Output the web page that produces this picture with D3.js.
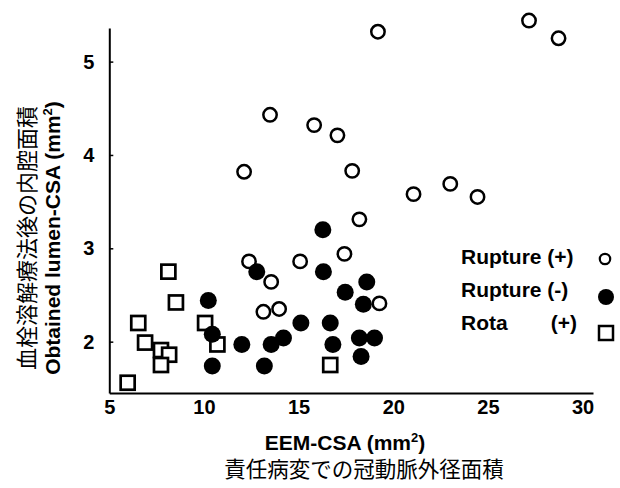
<!DOCTYPE html>
<html>
<head>
<meta charset="utf-8">
<script src="https://cdn.jsdelivr.net/npm/d3@7"></script>
<style>
	body { margin: 0; background: #fff; }
	svg text { fill: #000; }
</style>
</head>
<body>
<div id="chart"></div>
<script>
// Rupture (+) : open circles
const ruptPlusX = [19.19, 27.17, 28.73, 15.82, 17.05, 17.83, 21.07, 23.01, 24.45, 13.49, 12.12, 18.21, 17.42, 19.27, 12.38, 13.55, 15.08, 13.14, 13.97];
const ruptPlusY = [5.32, 5.44, 5.25, 4.32, 4.21, 3.83, 3.58, 3.69, 3.55, 4.43, 3.82, 3.31, 2.94, 2.41, 2.86, 2.64, 2.86, 2.32, 2.35];
// Rupture (-) : filled circles
const ruptMinusX = [12.79, 16.31, 18.60, 17.46, 18.42, 10.23, 15.12, 16.67, 14.20, 13.55, 12.00, 10.44, 16.81, 18.21, 19.01, 18.30, 10.44, 13.19, 16.28];
const ruptMinusY = [2.75, 2.75, 2.64, 2.53, 2.40, 2.44, 2.20, 2.20, 2.04, 1.97, 1.97, 2.08, 1.97, 2.04, 2.04, 1.84, 1.74, 1.74, 3.20];
// Rota (+) : open squares
const rotaX = [8.12, 8.52, 6.53, 10.06, 6.89, 7.73, 8.16, 7.73, 5.97, 10.71, 16.67];
const rotaY = [2.75, 2.42, 2.20, 2.20, 1.99, 1.91, 1.86, 1.75, 1.56, 1.97, 1.75];

const xTicks = [5, 10, 15, 20, 25, 30];
const yTicks = [2, 3, 4, 5];
const legendLabels = ['Rupture (+)', 'Rupture (-)', 'Rota'];
const legendSigns = ['', '', '(+)'];

const width = 620, height = 488;
const font = 'Arial, "Liberation Sans", sans-serif';
const jpFont = '"Noto Sans CJK JP", sans-serif';

const svg = d3.select('#chart').append('svg')
	.attr('width', width)
	.attr('height', height);

const xScale = d3.scaleLinear().domain([5, 30.55]).range([109.3, 593]);
const yScale = d3.scaleLinear().domain([1.45, 5.36]).range([393, 28]);

// axes
const xAxis = svg.append('g')
	.attr('transform', `translate(0, ${yScale.range()[0]})`)
	.call(d3.axisBottom(xScale).tickValues(xTicks).tickFormat(d3.format('d')).tickSize(0).tickPadding(7));
const yAxis = svg.append('g')
	.attr('transform', `translate(${xScale.range()[0]}, 0)`)
	.call(d3.axisLeft(yScale).tickValues(yTicks).tickFormat(d3.format('d')).tickSizeInner(-4).tickSizeOuter(0).tickPadding(15));

[xAxis, yAxis].forEach(ax => {
	ax.select('.domain').attr('stroke', '#000').attr('stroke-width', 2);
	ax.selectAll('.tick line').attr('stroke', '#000').attr('stroke-width', 1.5);
	ax.selectAll('.tick text')
		.attr('font-family', font)
		.attr('font-weight', 'bold')
		.attr('font-size', 20)
		.attr('fill', '#000');
});

// marks
const rotaData = rotaX.map((x, i) => ({x, y: rotaY[i]}));
const minusData = ruptMinusX.map((x, i) => ({x, y: ruptMinusY[i]}));
const plusData = ruptPlusX.map((x, i) => ({x, y: ruptPlusY[i]}));

svg.append('g').selectAll('rect')
	.data(rotaData)
	.enter()
	.append('rect')
		.attr('x', d => xScale(d.x) - 7)
		.attr('y', d => yScale(d.y) - 7)
		.attr('width', 14)
		.attr('height', 14)
		.attr('fill', '#fff')
		.attr('stroke', '#000')
		.attr('stroke-width', 2.7);

svg.append('g').selectAll('circle')
	.data(plusData)
	.enter()
	.append('circle')
		.attr('cx', d => xScale(d.x))
		.attr('cy', d => yScale(d.y))
		.attr('r', 6.7)
		.attr('fill', '#fff')
		.attr('stroke', '#000')
		.attr('stroke-width', 2.5);

svg.append('g').selectAll('circle')
	.data(minusData)
	.enter()
	.append('circle')
		.attr('cx', d => xScale(d.x))
		.attr('cy', d => yScale(d.y))
		.attr('r', 8.5)
		.attr('fill', '#000');

// axis titles
const xTitle = svg.append('text')
	.attr('x', 345)
	.attr('y', 450)
	.attr('text-anchor', 'middle')
	.attr('font-family', font)
	.attr('font-weight', 'bold')
	.attr('font-size', 21);
xTitle.append('tspan').text('EEM-CSA (mm');
xTitle.append('tspan').attr('font-size', 13).attr('dy', -8).text('2');
xTitle.append('tspan').attr('dy', 8).text(')');

svg.append('text')
	.attr('x', 364)
	.attr('y', 477)
	.attr('text-anchor', 'middle')
	.attr('font-family', jpFont)
	.attr('font-size', 21.5)
	.text('責任病変での冠動脈外径面積');

const yTitle = svg.append('text')
	.attr('transform', 'translate(60, 238) rotate(-90)')
	.attr('text-anchor', 'middle')
	.attr('font-family', font)
	.attr('font-weight', 'bold')
	.attr('font-size', 21);
yTitle.append('tspan').text('Obtained lumen-CSA (mm');
yTitle.append('tspan').attr('font-size', 13).attr('dy', -8).text('2');
yTitle.append('tspan').attr('dy', 8).text(')');

svg.append('text')
	.attr('transform', 'translate(35, 238) rotate(-90)')
	.attr('text-anchor', 'middle')
	.attr('font-family', jpFont)
	.attr('font-size', 22)
	.text('血栓溶解療法後の内腔面積');

// legend
const legendY = [257, 290, 323];
const legend = svg.append('g').selectAll('g')
	.data(legendLabels)
	.enter()
	.append('g')
	.attr('transform', (d, i) => `translate(0, ${legendY[i]})`);

legend.append('text')
	.attr('x', 461)
	.attr('dy', '0.35em')
	.attr('font-family', font)
	.attr('font-weight', 'bold')
	.attr('font-size', 21)
	.text(d => d);

legend.append('text')
	.attr('x', 577)
	.attr('dy', '0.35em')
	.attr('text-anchor', 'end')
	.attr('font-family', font)
	.attr('font-weight', 'bold')
	.attr('font-size', 21)
	.text((d, i) => legendSigns[i]);

legend.filter((d, i) => i === 0).append('circle')
	.attr('cx', 605).attr('cy', 2).attr('r', 5.2)
	.attr('fill', '#fff').attr('stroke', '#000').attr('stroke-width', 2.2);
legend.filter((d, i) => i === 1).append('circle')
	.attr('cx', 606).attr('cy', 7).attr('r', 8)
	.attr('fill', '#000');
legend.filter((d, i) => i === 2).append('rect')
	.attr('x', 599).attr('y', 3).attr('width', 14).attr('height', 14)
	.attr('fill', '#fff').attr('stroke', '#000').attr('stroke-width', 2.5);
</script>
</body>
</html>
